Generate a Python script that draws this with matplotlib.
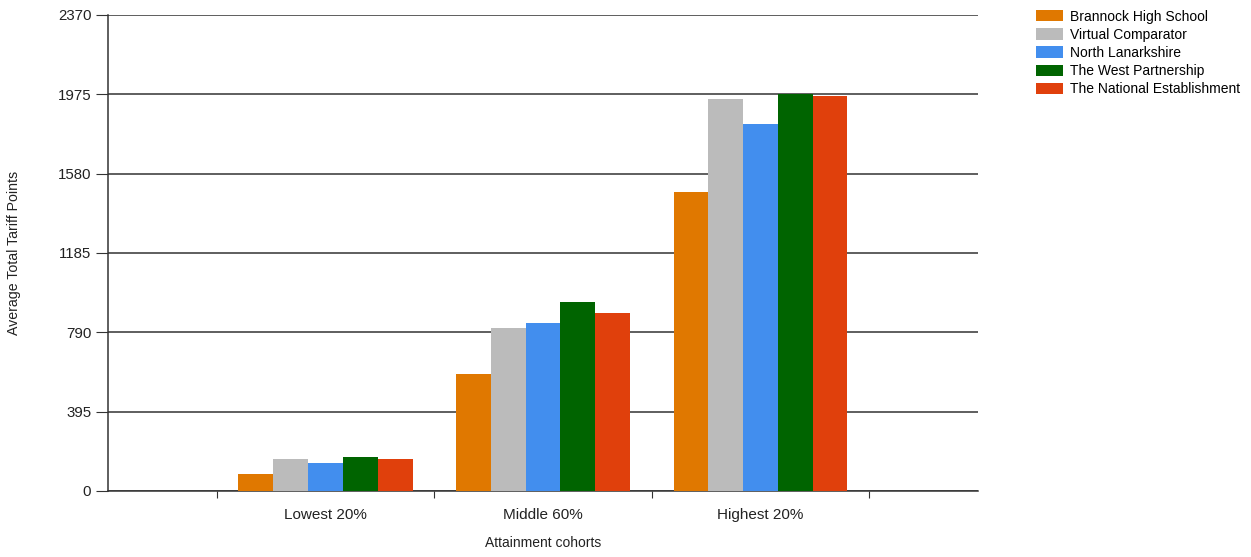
import numpy as np
import matplotlib
matplotlib.use("Agg")
import matplotlib.pyplot as plt

plt.rcParams.update({"font.family": ["Liberation Sans", "DejaVu Sans"], "font.size": 10})

cohorts = ["Lowest 20%", "Middle 60%", "Highest 20%"]
series = ["Brannock High School", "Virtual Comparator", "North Lanarkshire",
          "The West Partnership", "The National Establishment"]
brannock = [83, 582, 1489]
virtual = [158, 811, 1952]
north_lan = [139, 838, 1828]
west = [171, 942, 1977]
national = [158, 888, 1967]
yticks = [0, 395, 790, 1185, 1580, 1975, 2370]

values = [brannock, virtual, north_lan, west, national]
colors = ["#E07800", "#BBBBBB", "#428EEE", "#006400", "#E0400C"]

fig = plt.figure(figsize=(12.51, 5.57), dpi=100)
ax = fig.add_axes([108 / 1251, 1 - 491 / 557, 870 / 1251, 476 / 557])

x = np.arange(1, len(cohorts) + 1)
w = 0.16
for i, (name, vals, col) in enumerate(zip(series, values, colors)):
    ax.bar(x + (i - 2) * w, vals, w, color=col, label=name, zorder=3)

ax.set_xlim(0, 4)
ax.set_ylim(0, 2370)
ax.set_yticks(yticks)
ax.set_yticklabels([str(t) for t in yticks], fontsize=10.8, color="#222")
ax.yaxis.grid(True, color="#333", lw=1.1, zorder=1)
ax.set_axisbelow(True)

# category boundaries get the tick marks, names sit between them
ax.set_xticks([0.5, 1.5, 2.5, 3.5])
ax.set_xticklabels([])
ax.set_xticks(x, minor=True)
ax.set_xticklabels(cohorts, minor=True, fontsize=11, color="#222")
ax.tick_params(axis="x", which="minor", length=0, pad=12)
ax.tick_params(axis="x", which="major", length=5, color="#333")
ax.tick_params(axis="y", length=9, color="#333", pad=3)

for s in ["top", "right"]:
    ax.spines[s].set_visible(False)
for s in ["left", "bottom"]:
    ax.spines[s].set_color("#333")
    ax.spines[s].set_linewidth(1.1)

fig.text(14 / 1251, 1 - 253 / 557, "Average Total Tariff Points", rotation=90,
         fontsize=10.2, color="#222", ha="center", va="center")
fig.text(543 / 1251, 1 - 543 / 557, "Attainment cohorts",
         fontsize=10, color="#222", ha="center", va="center")

fig.legend(loc="upper left", bbox_to_anchor=(1030 / 1251, 1 - 4 / 557), frameon=False,
           fontsize=10, handlelength=2.0, handleheight=0.86, labelspacing=0.3,
           handletextpad=0.5, borderaxespad=0)

fig.savefig("out.png", dpi=100)
